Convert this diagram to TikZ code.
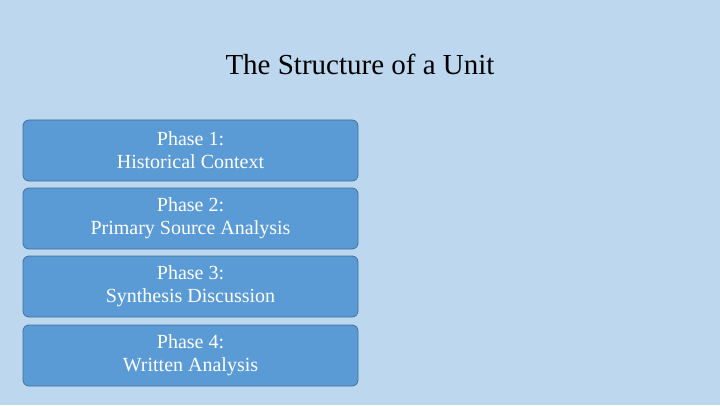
\documentclass[tikz,border=0pt]{standalone}
\usepackage{fontspec}
\setmainfont{Liberation Serif}
\definecolor{bg}{HTML}{BDD7EE}
\definecolor{boxfill}{HTML}{5B9BD5}
\definecolor{boxline}{HTML}{41719C}
\tikzset{phase/.style={draw=boxline, line width=0.8pt, fill=boxfill, rounded corners=6pt, minimum width=335pt, minimum height=61pt, text=white, align=center, font=\fontsize{20}{23}\selectfont, inner sep=0pt}}
\begin{document}
\begin{tikzpicture}[x=1pt,y=1pt]
\fill[bg] (0,0) rectangle (720,405);
\useasboundingbox (0,0) rectangle (720,405);
\node[font=\fontsize{29}{33}\selectfont] (title) at (360,341) {The Structure of a Unit};
\node[phase] (p1) at (190.5,254.5) {Phase 1:\\Historical Context};
\node[phase] (p2) at (190.5,186.5) {Phase 2:\\Primary Source Analysis};
\node[phase] (p3) at (190.5,118.5) {Phase 3:\\Synthesis Discussion};
\node[phase] (p4) at (190.5,49.5) {Phase 4:\\Written Analysis};
\end{tikzpicture}
\end{document}
